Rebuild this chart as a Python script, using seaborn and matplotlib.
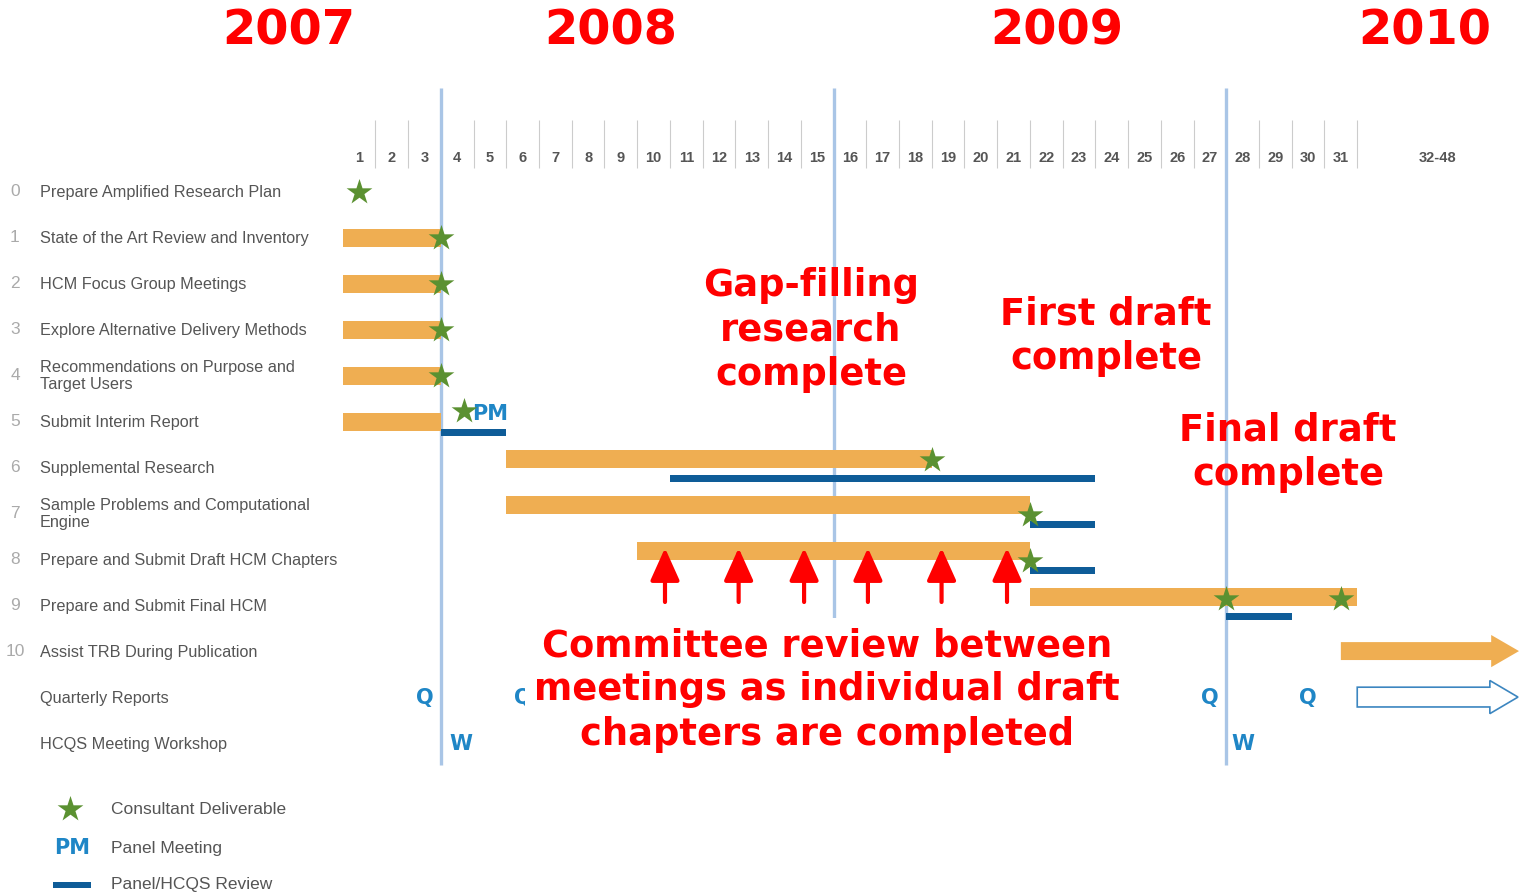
import numpy as np
import pandas as pd
import matplotlib.pyplot as plt
import seaborn as sns
from matplotlib.patches import FancyArrow

sns.set_theme(style="white")
plt.rcParams['font.family'] = ['DejaVu Sans']

# ---- data ----
years = ["2007", "2008", "2009", "2010"]
year_x = [-1.66, 8.2, 21.83, 33.07]          # month position of year label
month_labels = [str(m) for m in range(1, 32)] + ["32-48"]
month_pos = [m - 0.5 for m in range(1, 32)] + [33.45]

row_ids = ["0", "1", "2", "3", "4", "5", "6", "7", "8", "9", "10", "", ""]
task_names = [
    "Prepare Amplified Research Plan",
    "State of the Art Review and Inventory",
    "HCM Focus Group Meetings",
    "Explore Alternative Delivery Methods",
    "Recommendations on Purpose and\nTarget Users",
    "Submit Interim Report",
    "Supplemental Research",
    "Sample Problems and Computational\nEngine",
    "Prepare and Submit Draft HCM Chapters",
    "Prepare and Submit Final HCM",
    "Assist TRB During Publication",
    "Quarterly Reports",
    "HCQS Meeting Workshop",
]

# consultant work (orange bars), in months
work_row = [1, 2, 3, 4, 5, 6, 7, 8, 9]
work_start = [0, 0, 0, 0, 0, 5, 5, 9, 21]
work_end = [3, 3, 3, 3, 3, 18, 21, 21, 31]
work_shift = [0, 0, 0, 0, 0, -0.19, -0.19, -0.19, -0.19]

# panel / HCQS review (blue bars)
review_row = [5, 6, 7, 8, 9]
review_start = [3, 10, 21, 21, 27]
review_end = [5, 23, 23, 23, 29]

# consultant deliverables (stars)
star_x = [0.5, 3, 3, 3, 3, 3.7, 18, 21, 21, 27, 30.5]
star_row = [0, 1, 2, 3, 4, 4.77, 5.83, 7.02, 8.02, 8.85, 8.85]

pm_x, pm_row = 4.5, 4.83
quarter_x = [2.5, 5.5, 26.5, 29.5]
workshop_x = [3.6, 27.5]
year_marks = [3, 15, 27]
committee_x = [9.85, 12.1, 14.1, 16.05, 18.3, 20.3]

publication_start = 30.5
quarterly_open_start = 31

ORANGE = "#EFAE52"
NAVY = "#0E5C98"
GREEN = "#5B9131"
LBLUE = "#1F86C6"
LINE = "#A9C5E6"
GREY = "#555555"

W, H = 1519, 893
X0, DX = 342.6, 32.73      # pixel of month 0, pixels per month
Y0, DY = 192, 46           # pixel of row 0, pixels per row

fig = plt.figure(figsize=(W / 100, H / 100), dpi=100)
ax = fig.add_axes([0, 0, 1, 1])
ax.set_xlim(-X0 / DX, (W - X0) / DX)
ax.set_ylim((H - Y0) / DY, -Y0 / DY)
ax.axis('off')

def px(x):
    return (x - X0) / DX

def py(y):
    return (y - Y0) / DY

# header
for yr, x in zip(years, year_x):
    ax.text(x, py(31), yr, color='red', fontsize=34.5, fontweight='bold',
            ha='center', va='center')
for lab, x in zip(month_labels, month_pos):
    ax.text(x, py(158), lab, color=GREY, fontsize=10.5, fontweight='bold',
            family='Liberation Sans', ha='center', va='center')
seps = [b for b in range(1, 32) if b not in year_marks]
ax.vlines(seps, py(120), py(168), color='#cccccc', lw=0.8)
# year boundaries; the middle one disappears under the committee note
ax.vlines(year_marks, py(88), [py(765), py(620), py(765)], color=LINE, lw=2.4, zorder=1)

# row labels
for i, (rid, name) in enumerate(zip(row_ids, task_names)):
    ax.text(px(15), i, rid, color='#aaaaaa', fontsize=12.5,
            family='Liberation Sans', ha='center', va='center')
    ax.text(px(40), i, name, color=GREY, fontsize=11.7, family='Liberation Sans',
            ha='left', va='center', linespacing=1.2)

# bars
work = pd.DataFrame({'row': work_row, 'start': work_start, 'end': work_end,
                     'shift': work_shift})
ax.barh(work['row'] + work['shift'], work['end'] - work['start'],
        left=work['start'], height=0.39, color=ORANGE, lw=0, zorder=2)
review = pd.DataFrame({'row': review_row, 'start': review_start, 'end': review_end})
ax.barh(review['row'] + 0.22, review['end'] - review['start'],
        left=review['start'], height=0.15, color=NAVY, lw=0, zorder=2)

# arrows for ongoing work
ax.add_patch(FancyArrow(publication_start, 9.98, px(1519) - publication_start, 0,
                        width=0.39, head_width=0.70, head_length=0.85,
                        length_includes_head=True, color=ORANGE, lw=0, zorder=2))
ax.add_patch(FancyArrow(quarterly_open_start, 10.98, px(1518) - quarterly_open_start, 0,
                        width=0.43, head_width=0.72, head_length=0.86,
                        length_includes_head=True, facecolor='white',
                        edgecolor='#3C86C0', lw=1.2, zorder=2))

# stars
sns.scatterplot(x=star_x, y=star_row, marker='*', s=380, color=GREEN,
                linewidth=0, ax=ax, zorder=4, legend=False)

# PM, Q, W markers
ax.text(pm_x, pm_row, "PM", color=LBLUE, fontsize=15, fontweight='bold',
        ha='center', va='center', zorder=3)
for x in quarter_x:
    ax.text(x, 11, "Q", color=LBLUE, fontsize=15, fontweight='bold',
            ha='center', va='center', zorder=3)
for x in workshop_x:
    ax.text(x, 12, "W", color=LBLUE, fontsize=15, fontweight='bold',
            ha='center', va='center', zorder=3)

# committee review arrows
for x in committee_x:
    ax.annotate("", xy=(x, py(548)), xytext=(x, py(602)),
                arrowprops=dict(arrowstyle='-|>,head_length=1.0,head_width=0.45',
                                color='red', lw=3, mutation_scale=20,
                                shrinkA=0, shrinkB=0), zorder=5)

# annotations
red_kw = dict(color='red', fontsize=26.5, fontweight='bold', ha='center',
              va='center', linespacing=1.25, zorder=6)
ax.text(px(811), py(330), "Gap-filling\nresearch\ncomplete", **red_kw)
ax.text(px(1106), py(336), "First draft\ncomplete", **red_kw)
ax.text(px(1288), py(452), "Final draft\ncomplete", **red_kw)
ax.text(px(827), py(690),
        "Committee review between\nmeetings as individual draft\nchapters are completed",
        bbox=dict(facecolor='white', edgecolor='none', pad=7), **red_kw)

# legend
sns.scatterplot(x=[px(70)], y=[py(809)], marker='*', s=380, color=GREEN,
                linewidth=0, ax=ax, legend=False)
ax.text(px(72), py(848), "PM", color=LBLUE, fontsize=15, fontweight='bold',
        ha='center', va='center')
ax.barh([py(885)], [px(91) - px(53)], left=px(53), height=0.15, color=NAVY, lw=0)
for y, lab in zip([809, 848, 885],
                  ["Consultant Deliverable", "Panel Meeting", "Panel/HCQS Review"]):
    ax.text(px(111), py(y), lab, color=GREY, fontsize=12.5, family='Liberation Sans',
            ha='left', va='center')

fig.savefig("out.png", dpi=100, facecolor='white')
